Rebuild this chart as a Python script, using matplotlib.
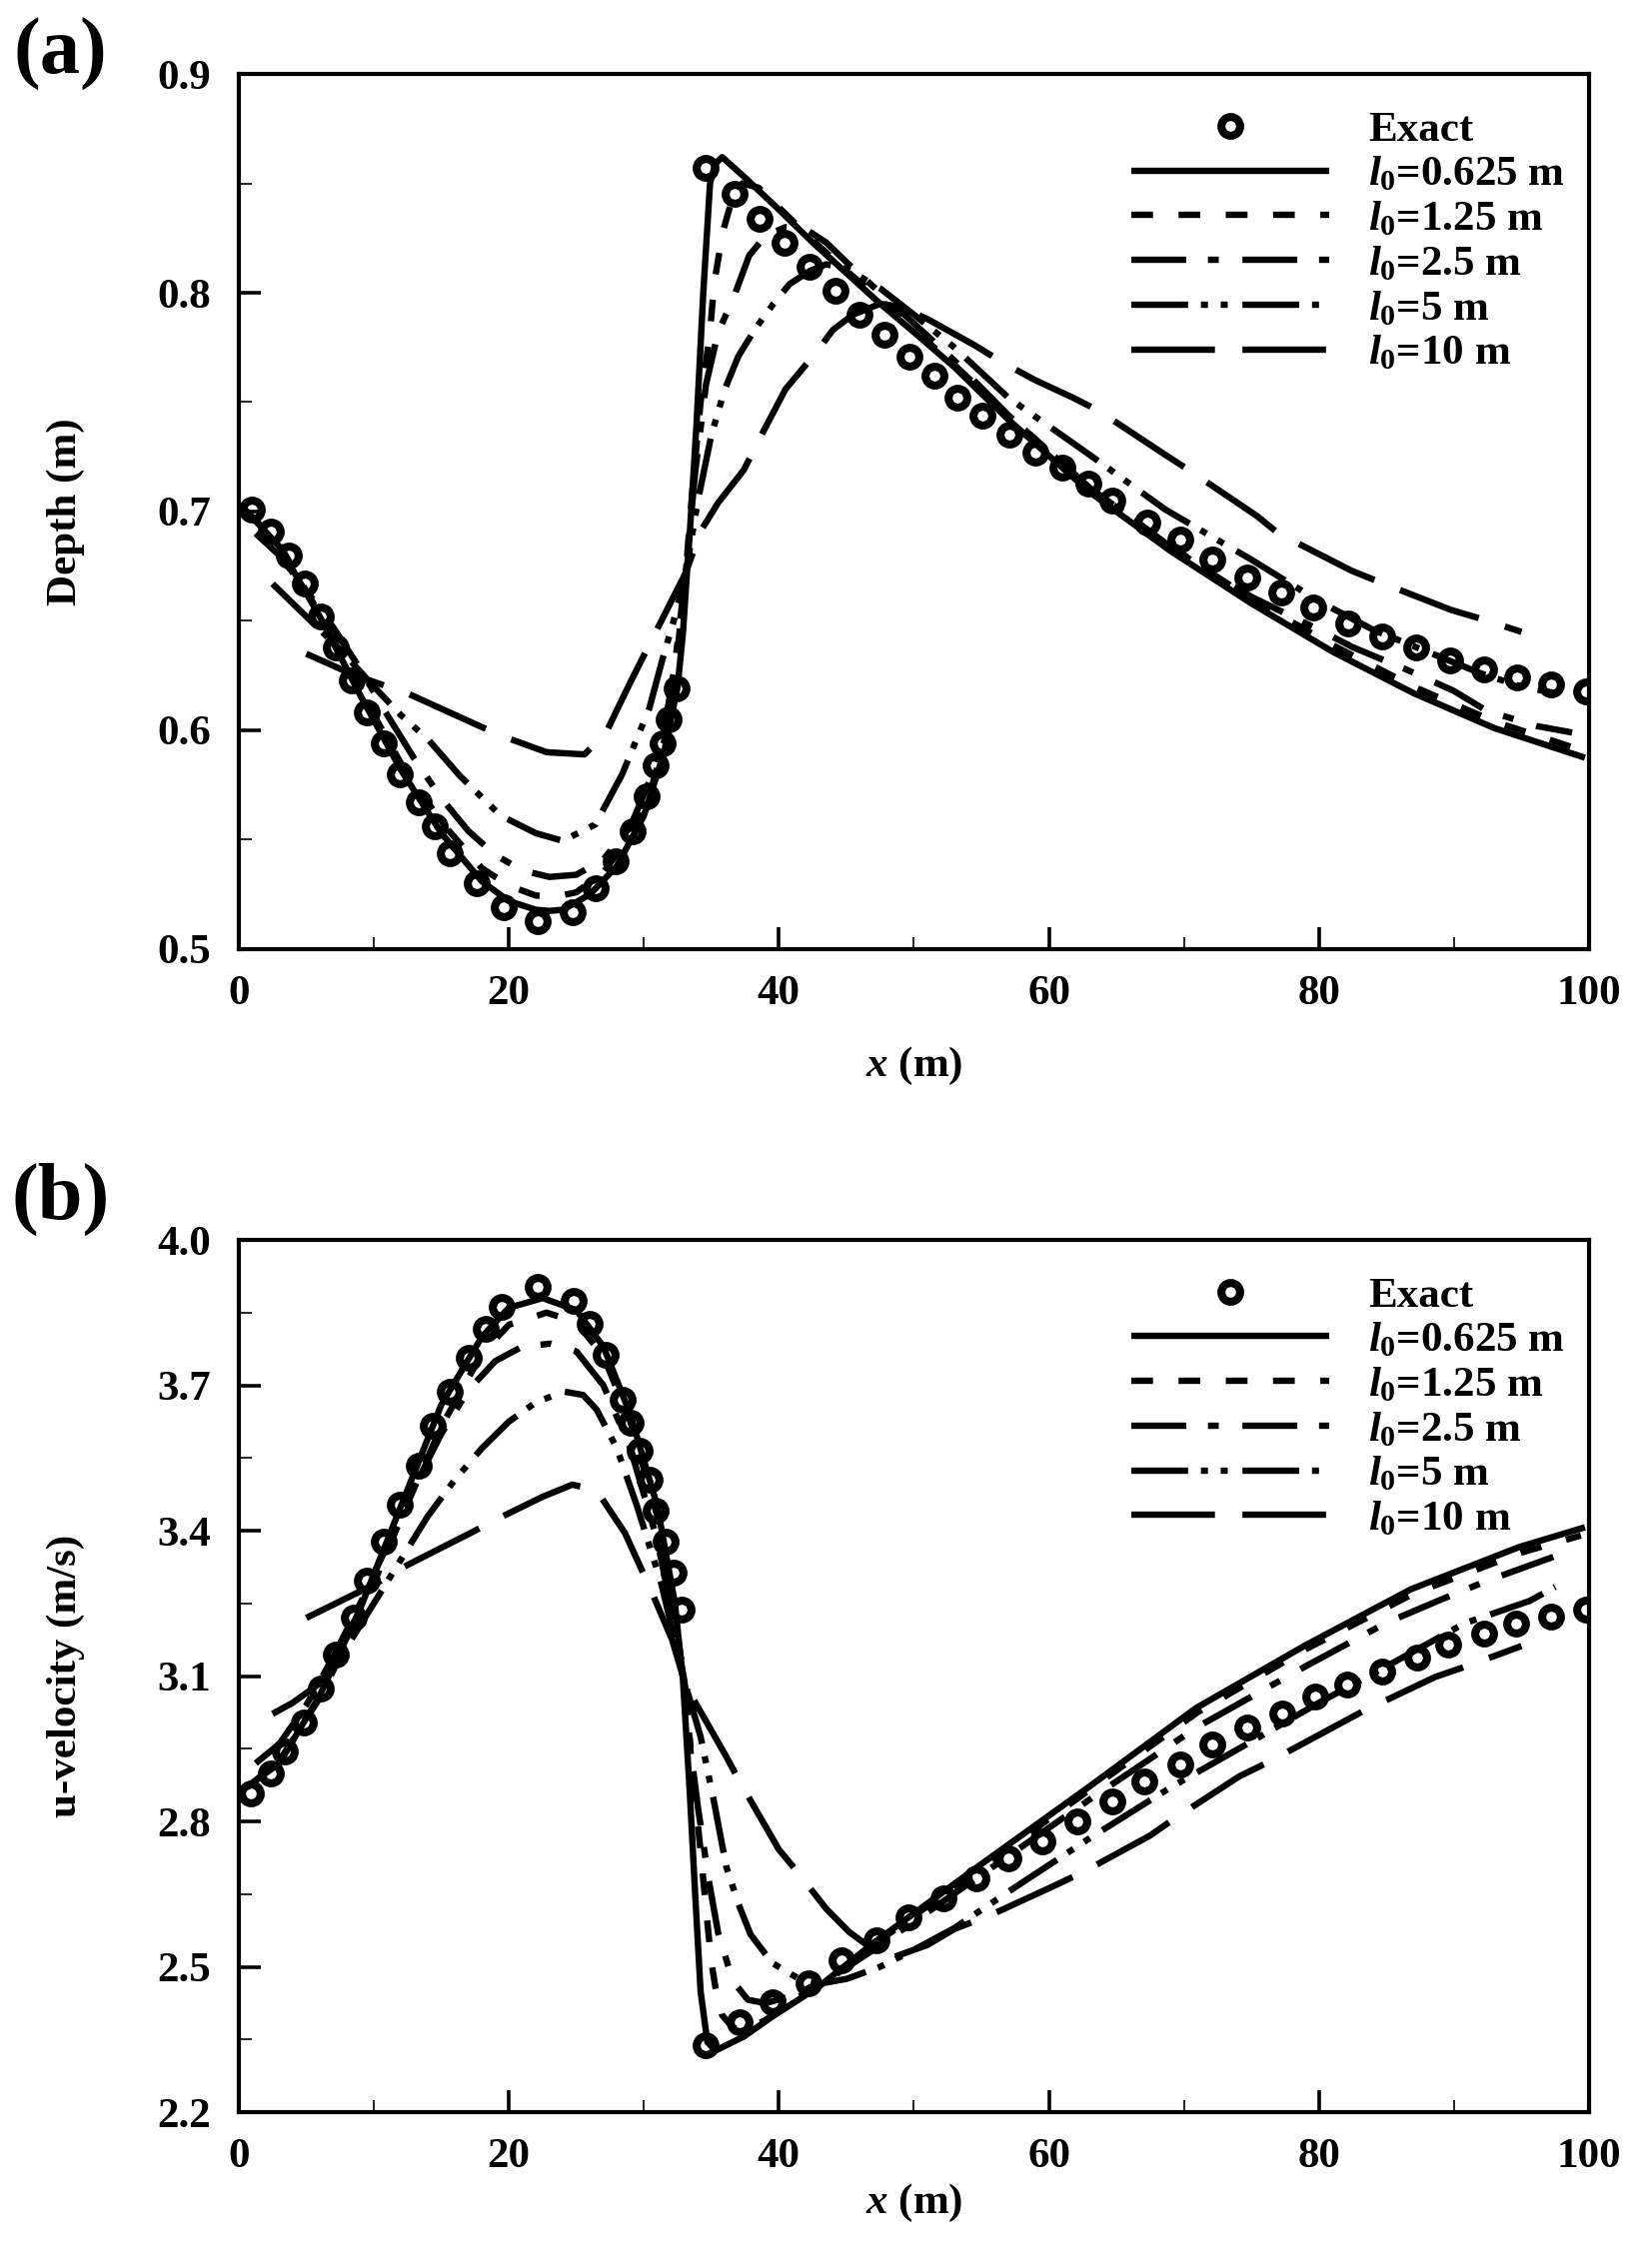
#!/usr/bin/env python3
"""
Depth and u-velocity profiles along the channel for several l0 values,
compared with the exact solution.
"""

import matplotlib
matplotlib.use('Agg')
import matplotlib.pyplot as plt
from matplotlib.ticker import FixedLocator, MultipleLocator, FormatStrFormatter

# ---------------------------------------------------------------
# (a) depth, values
# ---------------------------------------------------------------
exact_a_x = [1.0, 2.4, 3.7, 4.9, 6.1, 7.2, 8.4, 9.5, 10.7, 11.9, 13.3, 14.5, 15.6, 17.6,
             19.6, 22.1, 24.7, 26.4, 27.9, 29.2, 30.2, 30.9, 31.4, 31.8, 32.4, 34.6, 36.7,
             38.6, 40.4, 42.3, 44.2, 46.0, 47.8, 49.7, 51.5, 53.2, 55.1, 57.1, 59.0, 61.0,
             62.9, 64.7, 67.3, 69.7, 72.1, 74.7, 77.2, 79.6, 82.2, 84.7, 87.2, 89.7, 92.2,
             94.7, 97.2, 99.8]
exact_a_h = [0.701, 0.691, 0.680, 0.667, 0.652, 0.638, 0.623, 0.608, 0.594, 0.580, 0.567,
             0.556, 0.544, 0.530, 0.519, 0.513, 0.517, 0.528, 0.540, 0.554, 0.570, 0.584,
             0.594, 0.605, 0.619, 0.857, 0.845, 0.834, 0.823, 0.812, 0.801, 0.790, 0.781,
             0.771, 0.762, 0.752, 0.744, 0.735, 0.727, 0.720, 0.713, 0.705, 0.695, 0.687,
             0.678, 0.670, 0.663, 0.656, 0.649, 0.643, 0.638, 0.632, 0.628, 0.624, 0.621,
             0.618]

l0625_a_x = [0.3, 3, 6, 9, 12, 15, 18, 20, 22, 23, 24, 26, 28, 30, 31.5, 32.5, 32.9, 33.2,
             33.4, 33.9, 34.4, 34.9, 35.3, 35.8, 37.6, 40, 42.5, 45, 47.5, 50, 53, 57, 63,
             69, 75, 81, 87, 93, 99.7]
l0625_a_h = [0.702, 0.684, 0.652, 0.616, 0.582, 0.553, 0.531, 0.522, 0.518, 0.5175, 0.518,
             0.525, 0.538, 0.561, 0.590, 0.620, 0.645, 0.673, 0.690, 0.740, 0.800, 0.850,
             0.859, 0.862, 0.852, 0.838, 0.823, 0.809, 0.795, 0.782, 0.766, 0.742, 0.709,
             0.682, 0.658, 0.636, 0.617, 0.601, 0.5875]

l0125_a_x = [0.6, 3, 6, 9, 12, 15, 18, 20, 22, 23.5, 25, 27, 29, 30.5, 31.5, 32.3, 33.1,
             33.6, 34.2, 34.9, 35.2, 35.85, 36.5, 37.3, 38.5, 40, 42.5, 45, 47.5, 50, 53,
             57, 63, 69, 75, 81, 87, 93, 99.4]
l0125_a_h = [0.700, 0.685, 0.653, 0.618, 0.585, 0.558, 0.537, 0.529, 0.5245, 0.524, 0.526,
             0.535, 0.552, 0.572, 0.595, 0.625, 0.672, 0.710, 0.750, 0.782, 0.804, 0.828,
             0.842, 0.850, 0.848, 0.839, 0.824, 0.810, 0.797, 0.783, 0.767, 0.744, 0.711,
             0.684, 0.660, 0.639, 0.620, 0.604, 0.591]

l025_a_x = [1.25, 3, 5, 7, 9, 11, 13, 15, 17, 19, 21, 23, 25, 27, 29, 30.5, 31.5, 32.3,
            33.1, 33.8, 34.6, 35.5, 36.6, 37.8, 39, 40.5, 42, 43.5, 45, 47.5, 50, 53, 57,
            63, 69, 75, 80, 82.5, 86.4, 90, 92.4, 96.1, 98.75]
l025_a_h = [0.690, 0.680, 0.664, 0.647, 0.628, 0.607, 0.587, 0.569, 0.554, 0.543, 0.536,
            0.533, 0.534, 0.541, 0.556, 0.578, 0.600, 0.630, 0.672, 0.718, 0.758, 0.782,
            0.797, 0.817, 0.826, 0.830, 0.829, 0.823, 0.814, 0.800, 0.786, 0.769, 0.744,
            0.711, 0.684, 0.661, 0.646, 0.638, 0.628, 0.618, 0.609, 0.602, 0.599]

l05_a_x = [2.5, 5, 7.5, 10, 12, 14, 16.4, 19.4, 22, 24, 26.4, 28.4, 30.4, 31.4, 32.3, 33.1,
           34, 35, 36, 37, 38.3, 39.6, 40.8, 42.3, 43.5, 45, 47.5, 50, 53, 57, 63, 68.6,
           75, 80, 84, 88, 92, 95, 97.5]
l05_a_h = [0.667, 0.652, 0.637, 0.620, 0.607, 0.596, 0.579, 0.561, 0.553, 0.5495, 0.557,
           0.580, 0.610, 0.633, 0.652, 0.672, 0.705, 0.735, 0.756, 0.771, 0.784, 0.795,
           0.804, 0.810, 0.813, 0.811, 0.802, 0.790, 0.775, 0.752, 0.726, 0.701, 0.678,
           0.659, 0.646, 0.636, 0.626, 0.620, 0.617]

l010_a_x = [5, 8.5, 12.6, 18, 19.9, 22.8, 25.6, 27.2, 29, 30.8, 33.1, 34.2, 35.5, 37.4,
            38.5, 40.5, 42.8, 44, 45.5, 47.5, 49, 51, 54.5, 56.6, 59, 61.8, 63.7, 68.6,
            70.6, 75.4, 77, 82.4, 84.4, 89.8, 92, 95]
l010_a_h = [0.635, 0.6254, 0.6166, 0.6015, 0.5965, 0.590, 0.589, 0.599, 0.622, 0.644,
            0.672, 0.691, 0.704, 0.719, 0.7325, 0.756, 0.773, 0.783, 0.790, 0.795, 0.7935,
            0.788, 0.776, 0.768, 0.760, 0.752, 0.746, 0.726, 0.718, 0.698, 0.690, 0.673,
            0.668, 0.655, 0.651, 0.645]

# ---------------------------------------------------------------
# (b) u-velocity
# ---------------------------------------------------------------
exact_b_x = [0.9, 2.4, 3.4, 4.8, 6.1, 7.2, 8.5, 9.5, 10.7, 11.9, 13.3, 14.4, 15.6, 17.0,
             18.3, 19.5, 22.1, 24.8, 26.0, 27.2, 28.4, 29.0, 29.7, 30.4, 30.9, 31.6, 32.2,
             32.8, 34.6, 37.1, 39.5, 42.2, 44.6, 47.2, 49.6, 52.2, 54.6, 57.0, 59.5, 62.1,
             64.7, 67.1, 69.7, 72.1, 74.7, 77.3, 79.7, 82.1, 84.7, 87.3, 89.6, 92.2, 94.6,
             97.2, 99.8]
exact_b_u = [2.858, 2.899, 2.945, 3.004, 3.074, 3.144, 3.220, 3.296, 3.378, 3.454, 3.535,
             3.617, 3.687, 3.757, 3.816, 3.862, 3.903, 3.874, 3.827, 3.763, 3.670, 3.623,
             3.565, 3.506, 3.442, 3.378, 3.314, 3.238, 2.339, 2.386, 2.427, 2.467, 2.514,
             2.555, 2.602, 2.642, 2.683, 2.724, 2.759, 2.800, 2.841, 2.882, 2.917, 2.958,
             2.993, 3.022, 3.057, 3.083, 3.109, 3.139, 3.164, 3.188, 3.209, 3.223, 3.238]

l0625_b_x = [0.3, 3, 6, 9, 12, 15, 18, 20, 22.5, 25, 27, 29, 31, 32.3, 32.9, 33.4, 33.8,
             34.2, 34.7, 35.3, 37.4, 39.5, 43, 47, 55, 62.9, 70.9, 78.9, 86.8, 94.8, 99.7]
l0625_b_u = [2.865, 2.92, 3.06, 3.24, 3.45, 3.66, 3.80, 3.86, 3.88, 3.855, 3.78, 3.64,
             3.45, 3.25, 3.09, 2.86, 2.65, 2.45, 2.345, 2.327, 2.356, 2.397, 2.46, 2.549,
             2.712, 2.870, 3.034, 3.162, 3.279, 3.366, 3.407]

l0125_b_x = [0.6, 3, 6, 9, 12, 15, 18, 20, 22.8, 25, 27, 29, 31, 32.3, 33.0, 33.6, 34.2,
             34.6, 35.0, 35.4, 35.8, 36.6, 37.5, 39, 41, 44, 47, 55, 63, 71, 79, 87, 95,
             99.4]
l0125_b_u = [2.87, 2.925, 3.055, 3.225, 3.425, 3.615, 3.765, 3.825, 3.85, 3.83, 3.76,
             3.625, 3.43, 3.22, 3.09, 2.90, 2.74, 2.62, 2.51, 2.44, 2.40, 2.374, 2.37,
             2.39, 2.43, 2.48, 2.545, 2.705, 2.865, 3.025, 3.155, 3.27, 3.355, 3.39]

l025_b_x = [1.25, 3, 5, 7, 9, 11, 13, 15, 17, 19, 21, 23.1, 25, 27, 29, 31, 32.3, 33.0,
            33.5, 34.0, 34.8, 35.5, 36.6, 37.7, 39, 41, 44, 47, 55, 63, 71, 79, 85, 88.8,
            92.4, 98.75]
l025_b_u = [2.92, 2.96, 3.04, 3.14, 3.25, 3.37, 3.49, 3.60, 3.69, 3.75, 3.78, 3.786, 3.77,
            3.70, 3.57, 3.38, 3.20, 3.09, 2.94, 2.83, 2.68, 2.57, 2.47, 2.432, 2.425, 2.44,
            2.48, 2.535, 2.69, 2.845, 2.995, 3.12, 3.21, 3.255, 3.296, 3.36]

l05_b_x = [2.5, 4, 6, 8, 10, 12, 14, 16, 18, 20, 22, 24.1, 25.5, 26.5, 28, 29.5, 31.3,
           33.0, 34.2, 35.2, 36.1, 37.0, 37.9, 39.5, 41.5, 43, 45, 47.5, 50, 53, 57, 63,
           69, 75, 80, 85, 90.8, 95.6, 97.5]
l05_b_u = [3.022, 3.045, 3.085, 3.16, 3.25, 3.34, 3.43, 3.505, 3.57, 3.625, 3.665, 3.687,
           3.68, 3.65, 3.57, 3.45, 3.29, 3.09, 2.975, 2.84, 2.707, 2.63, 2.567, 2.508,
           2.475, 2.465, 2.475, 2.50, 2.535, 2.58, 2.655, 2.765, 2.87, 2.965, 3.045, 3.12,
           3.209, 3.255, 3.284]

l010_b_x = [5, 10.1, 12.2, 17.5, 19.2, 22.5, 24.7, 26.5, 28.6, 30.5, 32.1, 33.1, 36.1,
            37.1, 40.0, 41.4, 43.5, 45.2, 47, 48.5, 51, 53, 55.7, 60.3, 62.5, 67.5, 69.3,
            74.1, 76.3, 81.3, 83.3, 88.6, 91, 95]
l010_b_u = [3.22, 3.29, 3.325, 3.40, 3.425, 3.47, 3.495, 3.483, 3.395, 3.279, 3.174, 3.08,
            2.934, 2.882, 2.742, 2.695, 2.62, 2.572, 2.535, 2.52, 2.545, 2.578, 2.607,
            2.666, 2.695, 2.771, 2.806, 2.893, 2.923, 2.998, 3.028, 3.098, 3.121, 3.162]

series_labels = [r'$l_0$=0.625 m', r'$l_0$=1.25 m', r'$l_0$=2.5 m', r'$l_0$=5 m',
                 r'$l_0$=10 m']

depth_ticks = [0.5, 0.6, 0.7, 0.8, 0.9]
depth_minor = [0.55, 0.65, 0.75, 0.85]
vel_ticks = [2.2, 2.5, 2.8, 3.1, 3.4, 3.7, 4.0]
vel_minor = [2.35, 2.65, 2.95, 3.25, 3.55, 3.85]

# dash patterns (in line-width units), solid first
dash_styles = ['-', (0, (3.4, 4.0)), (0, (8.6, 3.4, 1.7, 3.7)),
               (0, (8.9, 2.0, 1.1, 2.0, 1.1, 2.3)), (0, (13.1, 4.3))]

FS = 31
LW = 4.6


def style_axes(ax):
    """Tecplot-like frame: thick spines, inward ticks on left/bottom only."""
    for sp in ax.spines.values():
        sp.set_linewidth(3.0)
    ax.tick_params(which='both', direction='in', top=False, right=False)
    ax.tick_params(which='major', length=16, width=2.6, labelsize=FS)
    ax.tick_params(which='minor', length=9, width=1.2)
    ax.tick_params(axis='y', which='major', pad=20)
    ax.tick_params(axis='x', which='major', pad=19)
    ax.set_xlim(0, 100)
    ax.xaxis.set_major_locator(MultipleLocator(20))
    ax.xaxis.set_minor_locator(MultipleLocator(10))


def draw_panel(ax, ex_x, ex_y, curves):
    handles = []
    h, = ax.plot(ex_x, ex_y, linestyle='none', marker='o', ms=13.5, mew=5.8,
                 mec='black', mfc='none', zorder=4)
    handles.append(h)
    for (cx, cy), ls in zip(curves, dash_styles):
        ln, = ax.plot(cx, cy, color='black', lw=LW, linestyle=ls,
                      dash_capstyle='butt', solid_capstyle='butt',
                      solid_joinstyle='round', zorder=3)
        handles.append(ln)
    ax.legend(handles, ['Exact'] + series_labels, loc='upper left',
              bbox_to_anchor=(0.661, 0.958), frameon=False, fontsize=FS,
              handlelength=4.6, handletextpad=0.9, labelspacing=0.13,
              borderpad=0, borderaxespad=0, numpoints=1)


def main():
    plt.rcParams['font.family'] = ['Liberation Serif', 'DejaVu Serif']
    plt.rcParams['font.weight'] = 'bold'
    plt.rcParams['mathtext.fontset'] = 'custom'
    plt.rcParams['mathtext.rm'] = 'Liberation Serif:bold'
    plt.rcParams['mathtext.it'] = 'Liberation Serif:italic:bold'
    plt.rcParams['mathtext.bf'] = 'Liberation Serif:bold'

    fig = plt.figure(figsize=(16.4, 22.7), dpi=100)
    ax1 = fig.add_axes([0.1457, 0.5815, 0.8238, 0.3859])
    ax2 = fig.add_axes([0.1457, 0.0687, 0.8238, 0.3846])

    # (a) depth
    draw_panel(ax1, exact_a_x, exact_a_h,
               [(l0625_a_x, l0625_a_h), (l0125_a_x, l0125_a_h), (l025_a_x, l025_a_h),
                (l05_a_x, l05_a_h), (l010_a_x, l010_a_h)])
    style_axes(ax1)
    ax1.set_ylim(0.5, 0.9)
    ax1.yaxis.set_major_locator(FixedLocator(depth_ticks))
    ax1.yaxis.set_minor_locator(FixedLocator(depth_minor))
    ax1.yaxis.set_major_formatter(FormatStrFormatter('%.1f'))
    ax1.set_ylabel('Depth (m)', fontsize=FS, fontweight='bold')
    ax1.yaxis.set_label_coords(-0.114, 0.5)
    ax1.set_xlabel(r'$x$ (m)', fontsize=FS, fontweight='bold')
    ax1.xaxis.set_label_coords(0.5, -0.11)

    # (b) u-velocity
    draw_panel(ax2, exact_b_x, exact_b_u,
               [(l0625_b_x, l0625_b_u), (l0125_b_x, l0125_b_u), (l025_b_x, l025_b_u),
                (l05_b_x, l05_b_u), (l010_b_x, l010_b_u)])
    style_axes(ax2)
    ax2.set_ylim(2.2, 4.0)
    ax2.yaxis.set_major_locator(FixedLocator(vel_ticks))
    ax2.yaxis.set_minor_locator(FixedLocator(vel_minor))
    ax2.yaxis.set_major_formatter(FormatStrFormatter('%.1f'))
    ax2.set_ylabel('u-velocity (m/s)', fontsize=FS, fontweight='bold')
    ax2.yaxis.set_label_coords(-0.114, 0.5)
    ax2.set_xlabel(r'$x$ (m)', fontsize=FS, fontweight='bold')
    ax2.xaxis.set_label_coords(0.5, -0.08)

    fig.text(0.037, 0.976, '(a)', fontsize=58, fontweight='bold', ha='center', va='center')
    fig.text(0.037, 0.4714, '(b)', fontsize=58, fontweight='bold', ha='center', va='center')

    fig.savefig('out.png', dpi=100)


if __name__ == "__main__":
    main()
